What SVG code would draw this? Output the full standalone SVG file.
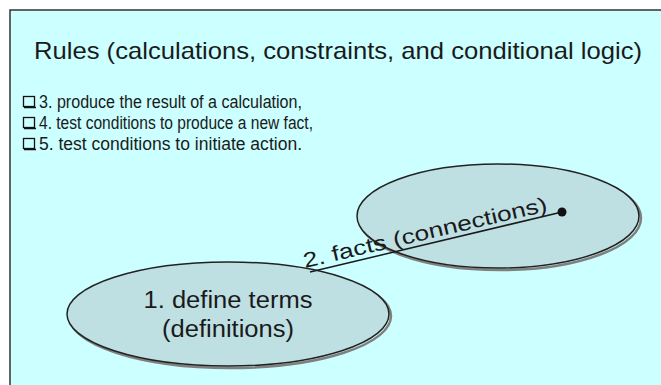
<svg xmlns="http://www.w3.org/2000/svg" width="661" height="385" viewBox="0 0 661 385">
  <defs>
    <style>
      .frame { fill: #CCFFFF; stroke: #333333; stroke-width: 1.5; }
      .txt { font-family: "Liberation Sans", Arial, sans-serif; fill: #1a1a1a; }
      .ell { fill: #BFE0E3; stroke: #222222; stroke-width: 1.5; }
      .shadow { fill: none; stroke: #808080; stroke-width: 2.5; }
      .chk { fill: none; stroke: #111111; stroke-width: 1.3; }
      .conn { stroke: #1a1a1a; stroke-width: 1.5; fill: none; }
    </style>
  </defs>
  <rect width="661" height="385" fill="#FFFFFF"/>
  <g id="frame">
    <rect class="frame" x="10" y="10" width="670" height="400"/>
    <text class="txt" x="34" y="59" font-size="24" textLength="608" lengthAdjust="spacingAndGlyphs">Rules (calculations, constraints, and conditional logic)</text>
  </g>
  <g id="list">
    <rect class="chk" x="23.5" y="96.5" width="11" height="10"/>
    <line x1="24" y1="107.5" x2="36" y2="107.5" stroke="#111" stroke-width="1.5"/>
    <text class="txt" x="39" y="108" font-size="17.5" textLength="263" lengthAdjust="spacingAndGlyphs">3. produce the result of a calculation,</text>
    <rect class="chk" x="23.5" y="117.5" width="11" height="10"/>
    <line x1="24" y1="128.5" x2="36" y2="128.5" stroke="#111" stroke-width="1.5"/>
    <text class="txt" x="39" y="129" font-size="17.5" textLength="274" lengthAdjust="spacingAndGlyphs">4. test conditions to produce a new fact,</text>
    <rect class="chk" x="23.5" y="138.5" width="11" height="10"/>
    <line x1="24" y1="149.5" x2="36" y2="149.5" stroke="#111" stroke-width="1.5"/>
    <text class="txt" x="39" y="150" font-size="17.5" textLength="263" lengthAdjust="spacingAndGlyphs">5. test conditions to initiate action.</text>
  </g>
  <g id="node-facts">
    <ellipse class="shadow" cx="500" cy="218" rx="141" ry="52"/>
    <ellipse class="ell" cx="498" cy="216" rx="141" ry="52"/>
  </g>
  <g id="node-terms">
    <ellipse class="shadow" cx="230" cy="316" rx="161" ry="52"/>
    <ellipse class="ell" cx="228" cy="314" rx="161" ry="52"/>
    <text class="txt" x="228" y="308" font-size="23" text-anchor="middle" textLength="169" lengthAdjust="spacingAndGlyphs">1. define terms</text>
    <text class="txt" x="228" y="337" font-size="23" text-anchor="middle" textLength="132" lengthAdjust="spacingAndGlyphs">(definitions)</text>
  </g>
  <g id="connectors">
    <line class="conn" x1="310" y1="272" x2="562" y2="212"/>
    <circle cx="562" cy="212" r="4.5" fill="#111111"/>
    <text class="txt" x="305" y="268" font-size="21" textLength="250" lengthAdjust="spacingAndGlyphs" transform="rotate(-13.2 305 268)">2. facts (connections)</text>
  </g>
</svg>
